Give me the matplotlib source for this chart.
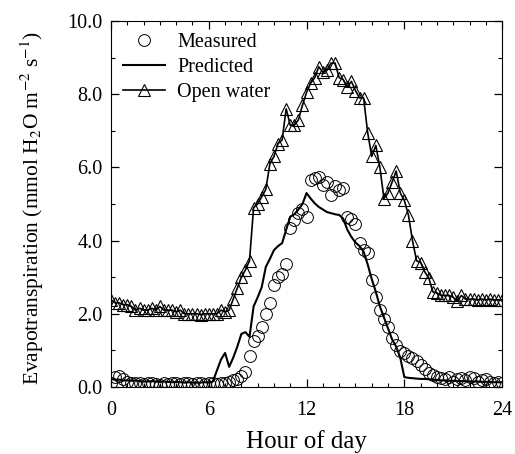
import numpy as np
import matplotlib
matplotlib.use("Agg")
import matplotlib.pyplot as plt
from matplotlib.ticker import MultipleLocator, FormatStrFormatter

plt.rcParams['font.family'] = ['Liberation Serif', 'DejaVu Serif']
plt.rcParams['mathtext.fontset'] = 'stix'

# 15-minute sampling, 0 to 24 h
hours = np.arange(0, 24.01, 0.25)

measured = [
    0.12, 0.28, 0.30, 0.22, 0.15, 0.12, 0.10, 0.12, 0.08, 0.10, 0.12, 0.08,
    0.06, 0.10, 0.08, 0.12, 0.10, 0.08, 0.12, 0.10, 0.08, 0.12, 0.10, 0.08,
    0.10, 0.12, 0.08, 0.12, 0.10, 0.14, 0.18, 0.22, 0.30, 0.42, 0.85, 1.25,
    1.38, 1.65, 2.00, 2.30, 2.80, 3.00, 3.10, 3.35, 4.35, 4.55, 4.75, 4.85,
    4.65, 5.65, 5.70, 5.74, 5.52, 5.60, 5.25, 5.50, 5.38, 5.45, 4.65, 4.60,
    4.45, 3.93, 3.75, 3.65, 2.92, 2.45, 2.10, 1.85, 1.65, 1.35, 1.15, 0.98,
    0.93, 0.85, 0.78, 0.72, 0.60, 0.48, 0.38, 0.32, 0.27, 0.25, 0.22, 0.27,
    0.14, 0.22, 0.25, 0.18, 0.27, 0.25, 0.15, 0.18, 0.22, 0.15, 0.12, 0.15,
    0.12,
]

predicted = [
    0.22, 0.20, 0.20, 0.18, 0.18, 0.17, 0.18, 0.16, 0.15, 0.15, 0.16, 0.15,
    0.14, 0.15, 0.14, 0.13, 0.14, 0.13, 0.12, 0.13, 0.12, 0.12, 0.12, 0.13,
    0.12, 0.15, 0.45, 0.75, 0.93, 0.55, 0.80, 1.10, 1.45, 1.50, 1.37, 2.20,
    2.45, 2.73, 3.28, 3.50, 3.74, 3.85, 3.93, 4.30, 4.65, 4.72, 4.85, 5.00,
    5.30, 5.15, 5.02, 4.92, 4.85, 4.78, 4.75, 4.72, 4.70, 4.60, 4.30, 4.10,
    3.95, 3.85, 3.70, 3.35, 2.95, 2.60, 2.20, 1.90, 1.60, 1.30, 1.10, 0.80,
    0.27, 0.25, 0.24, 0.23, 0.22, 0.22, 0.21, 0.20, 0.19, 0.18, 0.18, 0.17,
    0.17, 0.16, 0.16, 0.16, 0.15, 0.15, 0.15, 0.14, 0.14, 0.14, 0.13, 0.13,
    0.13,
]

open_water = [
    2.38, 2.30, 2.30, 2.25, 2.25, 2.20, 2.10, 2.15, 2.10, 2.10, 2.15, 2.10,
    2.20, 2.10, 2.10, 2.10, 2.05, 2.10, 2.00, 2.00, 2.00, 2.00, 1.98, 2.00,
    2.00, 2.00, 2.00, 2.10, 2.05, 2.10, 2.40, 2.70, 3.00, 3.20, 3.45, 4.90,
    5.00, 5.20, 5.40, 6.10, 6.30, 6.65, 6.75, 7.60, 7.15, 7.15, 7.30, 7.70,
    8.05, 8.30, 8.45, 8.75, 8.60, 8.65, 8.85, 8.85, 8.45, 8.40, 8.20, 8.35,
    8.10, 7.90, 7.90, 6.95, 6.30, 6.60, 6.00, 5.15, 5.30, 5.60, 5.90, 5.30,
    5.10, 4.70, 4.00, 3.45, 3.40, 3.15, 2.98, 2.60, 2.57, 2.50, 2.50, 2.50,
    2.45, 2.35, 2.50, 2.40, 2.40, 2.40, 2.38, 2.40, 2.38, 2.40, 2.38, 2.38,
    2.38,
]

fig = plt.figure(figsize=(5.15, 4.54), dpi=100)
ax = fig.add_axes([0.2155, 0.1476, 0.7595, 0.8061])

ax.plot(hours, measured, 'o', mfc='none', mec='black', mew=0.7, ms=8.5,
        label='Measured', zorder=3)
ax.plot(hours, predicted, '-', color='black', lw=1.5, label='Predicted', zorder=2)
ax.plot(hours, open_water, '-^', color='black', lw=1.2, mfc='none', mec='black',
        mew=0.8, ms=8, label='Open water', zorder=2)

ax.set_xlim(0, 24)
ax.set_ylim(0, 10)
ax.xaxis.set_major_locator(MultipleLocator(6))
ax.xaxis.set_minor_locator(MultipleLocator(1))
ax.yaxis.set_major_locator(MultipleLocator(2))
ax.yaxis.set_minor_locator(MultipleLocator(1))
ax.yaxis.set_major_formatter(FormatStrFormatter('%.1f'))
ax.tick_params(which='both', direction='in', top=True, right=True, labelsize=14.5)
ax.tick_params(which='major', length=6, width=0.9)
ax.tick_params(which='minor', length=3, width=0.8)
ax.tick_params(axis='x', pad=10)
ax.tick_params(axis='y', pad=6)

ax.set_xlabel('Hour of day', fontsize=18, labelpad=7)
ax.set_ylabel('Evapotranspiration (mmol H$_2$O m$^{-2}$ s$^{-1}$)', fontsize=15.5)
ax.yaxis.set_label_coords(-0.165, 0.49)

ax.legend(loc='upper left', frameon=False, fontsize=14.5, handlelength=2.1,
          handletextpad=0.6, borderaxespad=0.2, labelspacing=0.3)

fig.savefig('out.png', dpi=100)
